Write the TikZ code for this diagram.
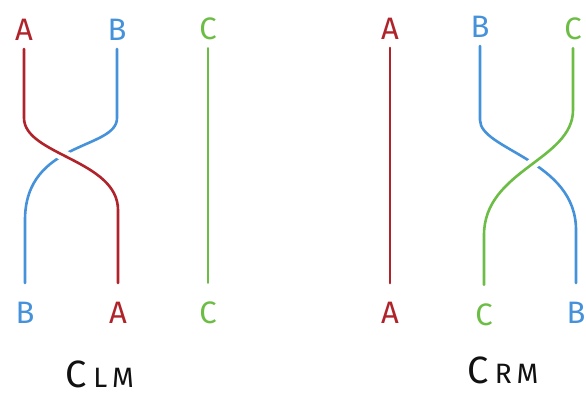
\documentclass[tikz,border=0pt]{standalone}
\usepackage{fontspec}
\setmainfont{Fira Sans}
\usetikzlibrary{calc}
\definecolor{StrandA}{HTML}{B0232A}
\definecolor{StrandB}{HTML}{4592DA}
\definecolor{StrandC}{HTML}{6CBD45}
\definecolor{Ink}{HTML}{111111}
\begin{document}
\begin{tikzpicture}[x=1pt,y=-1pt,every node/.style={font=\fontsize{31}{32}\selectfont},lbltop/.style={inner sep=8pt},lblbot/.style={inner sep=19pt},strand/.style={line width=2.6pt,line cap=round},over/.style={preaction={draw=white,line width=11pt,line cap=butt}},braidname/.style={text=Ink,inner sep=0pt,font=\fontsize{38}{40}\selectfont}]
\useasboundingbox (0,0) rectangle (586,398);
\fill[white] (0,0) rectangle (586,398);
% left picture
\node[lbltop,text=StrandA] (ltA) at (24,30){A}; \node[lbltop,text=StrandB] (ltB) at (117,30){B}; \node[lbltop,text=StrandC] (ltC) at (208,29){C};
\node[lblbot,text=StrandB] (lbB) at (25,313){B}; \node[lblbot,text=StrandA] (lbA) at (118,313){A}; \node[lblbot,text=StrandC] (lbC) at (208,313){C};
\draw[strand,StrandB] (ltB.south) -- (ltB.south |- 0,118) .. controls +(0,32) and +(0,-80) .. (lbB.north |- 0,220) -- (lbB.north);
\draw[strand,StrandA,over] (ltA.south) -- (ltA.south |- 0,118) .. controls +(0,37) and +(0,-50) .. (lbA.north |- 0,210) -- (lbA.north);
\draw[strand,StrandC] (ltC.south) -- (lbC.north);
\node[braidname] (clm) at (100,374){C\hspace{6pt}\fontsize{28}{30}\selectfont L\hspace{5pt}M};
% right picture
\node[lbltop,text=StrandA] (rtA) at (390,29){A}; \node[lbltop,text=StrandB] (rtB) at (480,27){B}; \node[lbltop,text=StrandC] (rtC) at (573,29){C};
\node[lblbot,text=StrandA] (rbA) at (390,313){A}; \node[lblbot,text=StrandC] (rbC) at (484,315){C}; \node[lblbot,text=StrandB] (rbB) at (576,313){B};
\draw[strand,StrandA] (rtA.south) -- (rbA.north);
\draw[strand,StrandB] (rtB.south) -- (rtB.south |- 0,120) .. controls +(0,30) and +(0,-70) .. (rbB.north |- 0,230) -- (rbB.north);
\draw[strand,StrandC,over] (rtC.south) -- (rtC.south |- 0,110) .. controls +(0,50) and +(0,-65) .. (rbC.north |- 0,235) -- (rbC.north);
\node[braidname] (crm) at (503,370){C\hspace{6pt}\fontsize{28}{30}\selectfont R\hspace{5pt}M};
\end{tikzpicture}
\end{document}
